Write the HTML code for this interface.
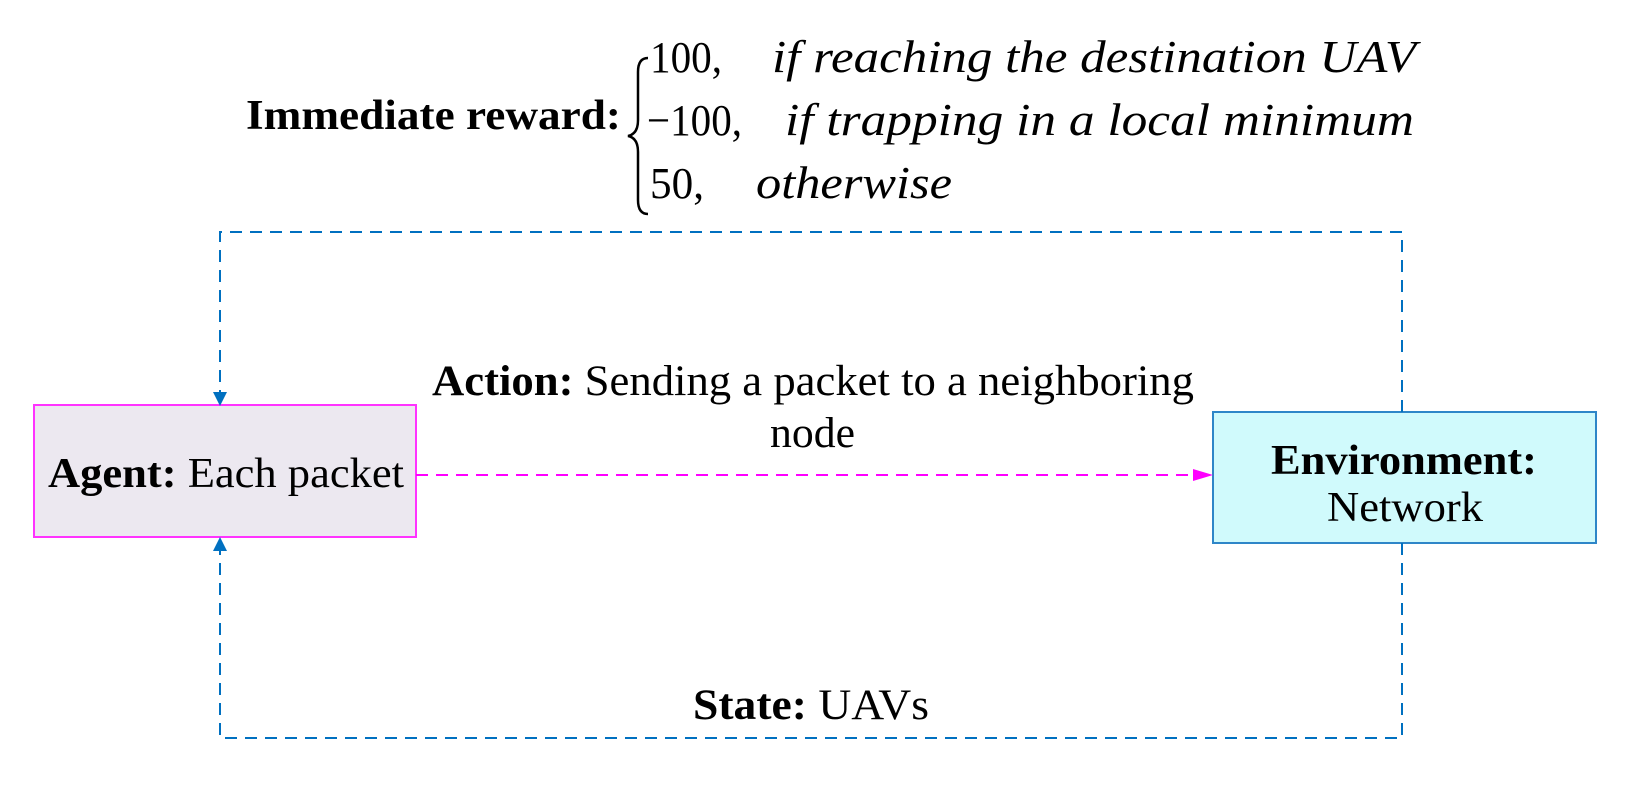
<!DOCTYPE html>
<html><head><meta charset="utf-8"><style>
html,body{margin:0;padding:0;background:#fff;width:1630px;height:793px;overflow:hidden}
svg{display:block}
text{font-family:"Liberation Serif",serif;fill:#000}
</style></head><body>
<svg width="1630" height="793" viewBox="0 0 1630 793" xmlns="http://www.w3.org/2000/svg">
<defs>
<marker id="ab" markerWidth="14" markerHeight="16" refX="13" refY="8" orient="auto" markerUnits="userSpaceOnUse"><path d="M0,1 L14,8 L0,15 z" fill="#0070c0"/></marker>
<marker id="am" markerWidth="20" markerHeight="14" refX="19" refY="7" orient="auto" markerUnits="userSpaceOnUse"><path d="M0,1 L20,7 L0,13 z" fill="#ff00ff"/></marker>
</defs>
<rect x="34" y="405" width="382" height="132" fill="#ece8f0" stroke="#ff33ff" stroke-width="2"/>
<rect x="1213" y="412" width="383" height="131" fill="#d0fafc" stroke="#2e86c8" stroke-width="2"/>
<polyline points="1402,412 1402,232 220,232 220,405" fill="none" stroke="#0070c0" stroke-width="2" stroke-dasharray="12,8" marker-end="url(#ab)"/>
<polyline points="1402,543 1402,738 220,738 220,538" fill="none" stroke="#0070c0" stroke-width="2" stroke-dasharray="12,8" marker-end="url(#ab)"/>
<line x1="416" y1="475" x2="1212" y2="475" stroke="#ff00ff" stroke-width="2" stroke-dasharray="12,8" marker-end="url(#am)"/>
<text x="246" y="129" font-size="42" font-weight="bold" textLength="375" lengthAdjust="spacingAndGlyphs">Immediate reward:</text>
<path d="M648,58 Q638,58 638,72 L638,120 Q638,134 628,136 Q638,138 638,152 L638,200 Q638,214 648,214" fill="none" stroke="#000" stroke-width="2.5"/>
<text x="650" y="72" font-size="44" textLength="72" lengthAdjust="spacingAndGlyphs">100,</text>
<text x="772" y="72" font-size="46" font-style="italic" textLength="644" lengthAdjust="spacingAndGlyphs">if reaching the destination UAV</text>
<text x="647" y="135" font-size="44" textLength="95" lengthAdjust="spacingAndGlyphs">−100,</text>
<text x="785" y="135" font-size="46" font-style="italic" textLength="629" lengthAdjust="spacingAndGlyphs">if trapping in a local minimum</text>
<text x="650" y="198" font-size="44" textLength="54" lengthAdjust="spacingAndGlyphs">50,</text>
<text x="756" y="198" font-size="46" font-style="italic" textLength="196" lengthAdjust="spacingAndGlyphs">otherwise</text>
<text x="432" y="395" font-size="43" textLength="762" lengthAdjust="spacingAndGlyphs"><tspan font-weight="bold">Action:</tspan> Sending a packet to a neighboring</text>
<text x="770" y="447" font-size="43" textLength="85" lengthAdjust="spacingAndGlyphs">node</text>
<text x="48" y="487" font-size="42" textLength="356" lengthAdjust="spacingAndGlyphs"><tspan font-weight="bold">Agent:</tspan> Each packet</text>
<text x="1271" y="474" font-size="42" font-weight="bold" textLength="266" lengthAdjust="spacingAndGlyphs">Environment:</text>
<text x="1327" y="521" font-size="42" textLength="156" lengthAdjust="spacingAndGlyphs">Network</text>
<text x="693" y="719" font-size="43" textLength="236" lengthAdjust="spacingAndGlyphs"><tspan font-weight="bold">State:</tspan> UAVs</text>
</svg>
</body></html>
